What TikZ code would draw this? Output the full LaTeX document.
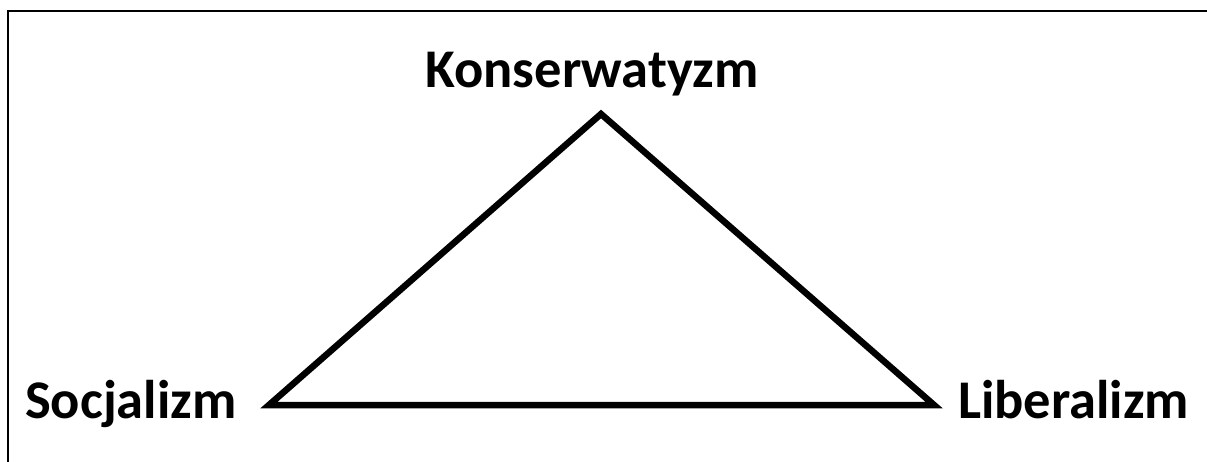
\documentclass[tikz,border=0pt]{standalone}
\usepackage{fontspec}
\setmainfont{Carlito}
\begin{document}
\begin{tikzpicture}[x=1pt,y=-1pt,
  lbl/.style={font=\bfseries\fontsize{54.5}{60}\selectfont, inner sep=0pt},
  edge/.style={line width=6.5pt, line join=miter}]
\useasboundingbox (0,0) rectangle (1207,462);
\fill[white] (0,0) rectangle (1207,462);
\draw[line width=2.5pt] (8,462) -- (8,11) -- (1207,11);
\node[lbl, anchor=base] (kon) at (592,88) {Konserwatyzm};
\node[lbl, anchor=base west] (soc) at (25,418) {Socjalizm};
\node[lbl, anchor=base west] (lib) at (958,418) {Liberalizm};
\coordinate (top) at (601,114);
\coordinate (left) at (269,405);
\coordinate (right) at (934,405);
\draw[edge] (top) -- (right) -- (left) -- cycle;
\end{tikzpicture}
\end{document}
